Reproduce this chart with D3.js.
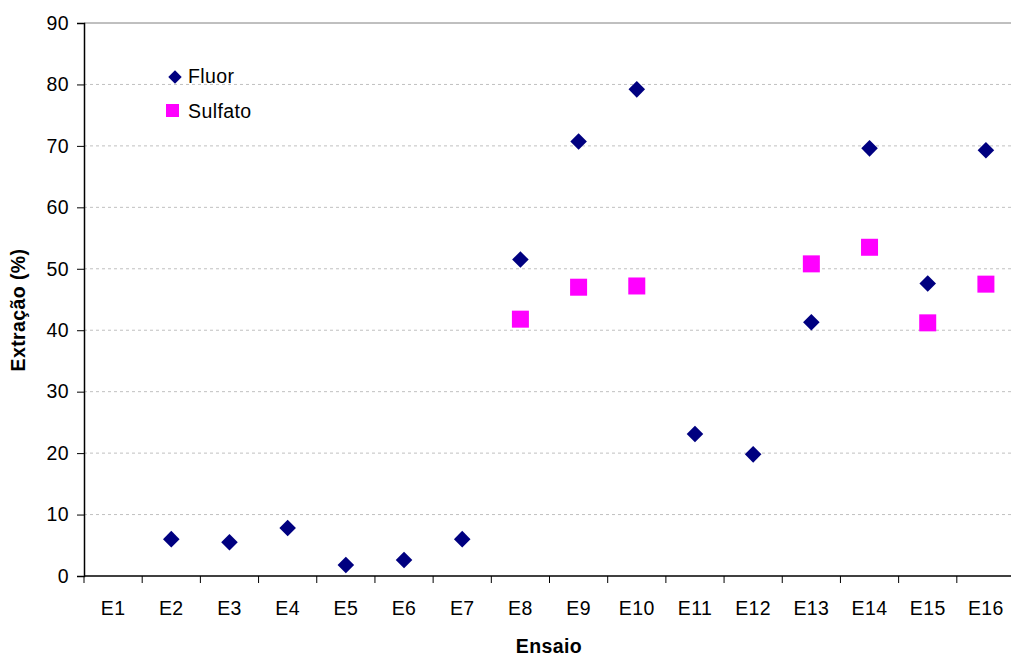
<!DOCTYPE html>
<html lang="pt">
<head>
<meta charset="UTF-8" />
<title>Extração</title>
<script src="https://d3js.org/d3.v7.min.js"></script>
<style>
  body { margin: 0; background: #fff; }
  svg { display: block; font-family: "Liberation Sans", Arial, sans-serif; }
  .grid line { stroke: #c0c0c0; stroke-dasharray: 3,3; }
</style>
</head>
<body>
<svg id="chart" width="1011" height="656"></svg>
<script>
  // dados
  const ensaios = ["E1","E2","E3","E4","E5","E6","E7","E8","E9","E10","E11","E12","E13","E14","E15","E16"];
  const fluor = [null, 6.0, 5.5, 7.8, 1.8, 2.6, 6.0, 51.5, 70.7, 79.2, 23.1, 19.8, 41.3, 69.6, 47.6, 69.3];
  const sulfato = [null, null, null, null, null, null, null, 41.8, 47.0, 47.2, null, null, 50.8, 53.5, 41.2, 47.5];
  const yTicks = [0, 10, 20, 30, 40, 50, 60, 70, 80, 90];

  const svg = d3.select("#chart");
  const margin = { top: 23, right: 0, bottom: 80, left: 84 };
  const width = 931, height = 576 - margin.top;
  const g = svg.append("g").attr("transform", `translate(${margin.left},${margin.top})`);

  const x = d3.scaleBand().domain(ensaios).range([0, width]);
  const y = d3.scaleLinear().domain([0, 90]).range([height, 0]);

  const fs = 19.5, ls = "0.4px";

  // linhas de grade
  g.append("g").attr("class", "grid")
    .selectAll("line").data(yTicks.filter(t => t > 0 && t < 90)).join("line")
    .attr("x1", 0).attr("x2", width)
    .attr("y1", d => y(d)).attr("y2", d => y(d));
  g.append("line").attr("x1", 0).attr("x2", width)
    .attr("y1", y(90)).attr("y2", y(90))
    .attr("stroke", "#808080").attr("stroke-width", 1);

  // eixo Y
  const yAxis = g.append("g")
    .call(d3.axisLeft(y).tickValues(yTicks).tickSize(7).tickPadding(8));
  yAxis.select(".domain").attr("stroke", "#000").attr("stroke-width", 1.5);
  yAxis.selectAll(".tick line").attr("stroke", "#000");
  yAxis.selectAll("text").attr("font-size", fs).attr("fill", "#000")
    .attr("letter-spacing", ls)
    .attr("font-family", "Liberation Sans, Arial, sans-serif");

  // eixo X
  const xAxisG = g.append("g").attr("transform", `translate(0,${height})`);
  xAxisG.append("line").attr("x1", 0).attr("x2", width)
    .attr("stroke", "#000").attr("stroke-width", 1.5);
  xAxisG.selectAll(".xt").data(ensaios).join("line").attr("class", "xt")
    .attr("x1", d => x(d)).attr("x2", d => x(d))
    .attr("y1", 0).attr("y2", 7).attr("stroke", "#000");
  xAxisG.selectAll(".xl").data(ensaios).join("text").attr("class", "xl")
    .attr("x", d => x(d) + x.bandwidth() / 2).attr("y", 39)
    .attr("text-anchor", "middle").attr("font-size", fs).attr("fill", "#000")
    .attr("letter-spacing", ls)
    .text(d => d);

  // títulos dos eixos
  svg.append("text").attr("x", 549).attr("y", 653)
    .attr("text-anchor", "middle").attr("font-size", fs).attr("font-weight", "bold")
    .attr("letter-spacing", ls)
    .text("Ensaio");
  svg.append("text")
    .attr("transform", `translate(25,310) rotate(-90)`)
    .attr("text-anchor", "middle").attr("font-size", fs).attr("font-weight", "bold")
    .attr("letter-spacing", ls)
    .text("Extração (%)");

  const diamond = d3.symbol().type(d3.symbolDiamond2).size(175);
  const sq = 17;

  // Fluor
  g.selectAll(".fluor").data(ensaios.map((e, i) => ({ e, v: fluor[i] })).filter(d => d.v != null))
    .join("path").attr("class", "fluor")
    .attr("d", diamond)
    .attr("transform", d => `translate(${x(d.e) + x.bandwidth() / 2},${y(d.v)})`)
    .attr("fill", "#000080");

  // Sulfato
  g.selectAll(".sulfato").data(ensaios.map((e, i) => ({ e, v: sulfato[i] })).filter(d => d.v != null))
    .join("rect").attr("class", "sulfato")
    .attr("x", d => x(d.e) + x.bandwidth() / 2 - sq / 2)
    .attr("y", d => y(d.v) - sq / 2)
    .attr("width", sq).attr("height", sq)
    .attr("fill", "#ff00ff");

  // legenda
  const legend = svg.append("g");
  legend.append("path").attr("d", d3.symbol().type(d3.symbolDiamond2).size(115))
    .attr("transform", "translate(175,77)").attr("fill", "#000080");
  legend.append("rect").attr("x", 166).attr("y", 104).attr("width", 13).attr("height", 13)
    .attr("fill", "#ff00ff");
  legend.append("text").attr("x", 188).attr("y", 83).attr("font-size", fs)
    .attr("letter-spacing", ls).text("Fluor");
  legend.append("text").attr("x", 188).attr("y", 118).attr("font-size", fs)
    .attr("letter-spacing", ls).text("Sulfato");
</script>
</body>
</html>
